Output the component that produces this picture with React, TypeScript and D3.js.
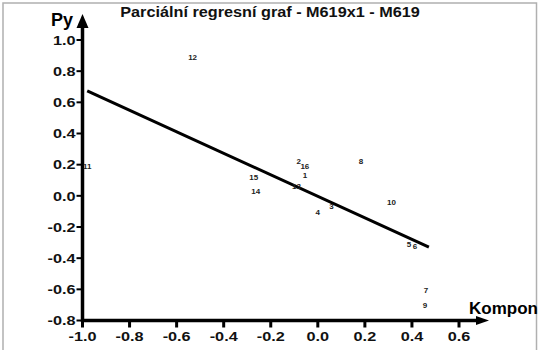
import React from "react";
import * as d3 from "d3";

const W = 538;
const H = 350;

const title = "Parciální regresní graf - M619x1 - M619";
const yAxisLabel = "Py";
const xAxisLabel = "Kompon";

const xTicks = [-1.0, -0.8, -0.6, -0.4, -0.2, 0.0, 0.2, 0.4, 0.6];
const yTicks = [1.0, 0.8, 0.6, 0.4, 0.2, 0.0, -0.2, -0.4, -0.6, -0.8];

const pointLabels = ["1", "2", "3", "4", "5", "6", "7", "8", "9", "10", "11", "12", "13", "14", "15", "16"];
const pointX = [-0.055, -0.081, 0.058, 0.0, 0.387, 0.413, 0.46, 0.183, 0.455, 0.313, -0.98, -0.532, -0.091, -0.264, -0.272, -0.055];
const pointY = [0.135, 0.226, -0.065, -0.101, -0.31, -0.323, -0.606, 0.226, -0.70, -0.037, 0.19, 0.89, 0.06, 0.032, 0.123, 0.194];

const lineX = [-0.98, 0.472];
const lineY = [0.673, -0.329];

const FONT = "'Liberation Sans', Arial, sans-serif";

export default function App() {
  const x = d3.scaleLinear().domain([-1.0, 0.6]).range([82.5, 459]);
  const y = d3.scaleLinear().domain([-0.8, 1.0]).range([320.5, 40]);
  const x0 = x(-1.0);
  const y0 = y(-0.8);
  const line = d3
    .line<number>()
    .x((d) => x(lineX[d]))
    .y((d) => y(lineY[d]));

  return (
    <svg
      width={W}
      height={H}
      style={{ position: "absolute", left: 0, top: 0, display: "block", background: "#fff" }}
      fontFamily={FONT}
    >
      <rect x={3} y={3} width={533.5} height={360} fill="none" stroke="#b0b0b0" strokeWidth={1.5} />
      <text
        transform={`translate(270,17) scale(1.16,1)`}
        textAnchor="middle"
        fontSize={14}
        fontWeight="bold"
        fill="#111"
      >
        {title}
      </text>

      {/* y axis */}
      <line x1={x0} x2={x0} y1={y0 + 1.5} y2={26} stroke="#000" strokeWidth={3.5} />
      <path d={`M${x0 - 6},28 L${x0 + 6},28 L${x0},14 Z`} fill="#000" />
      {/* x axis */}
      <line x1={x0 - 1.5} x2={478} y1={y0} y2={y0} stroke="#000" strokeWidth={3.5} />
      <path d={`M476,${y0 - 4.5} L476,${y0 + 4.5} L489,${y0} Z`} fill="#000" />

      {yTicks.map((t) => (
        <g key={"y" + t}>
          <line x1={x0 - 6} x2={x0} y1={y(t)} y2={y(t)} stroke="#000" strokeWidth={2} />
          <text
            transform={`translate(${x0 - 7},${y(t) + 4.8}) scale(1.25,1)`}
            textAnchor="end"
            fontSize={13}
            fontWeight="bold"
            fill="#111"
          >
            {t.toFixed(1)}
          </text>
        </g>
      ))}

      {xTicks.map((t) => (
        <g key={"x" + t}>
          <line x1={x(t)} x2={x(t)} y1={y0} y2={y0 + 7} stroke="#000" strokeWidth={3} />
          <text
            transform={`translate(${x(t)},${y0 + 20}) scale(1.25,1)`}
            textAnchor="middle"
            fontSize={13}
            fontWeight="bold"
            fill="#111"
          >
            {t.toFixed(1)}
          </text>
        </g>
      ))}

      <text x={51} y={26} fontSize={18} fontWeight="bold" fill="#000">
        {yAxisLabel}
      </text>
      <text x={469} y={314} fontSize={17} fontWeight="bold" fill="#000">
        {xAxisLabel}
      </text>

      <path d={line([0, 1]) || ""} fill="none" stroke="#000" strokeWidth={3} />

      {pointLabels.map((l, i) => (
        <text
          key={l}
          x={x(pointX[i])}
          y={y(pointY[i]) + 3}
          textAnchor="middle"
          fontSize={8}
          fontWeight="bold"
          fill="#222"
        >
          {l}
        </text>
      ))}
    </svg>
  );
}
